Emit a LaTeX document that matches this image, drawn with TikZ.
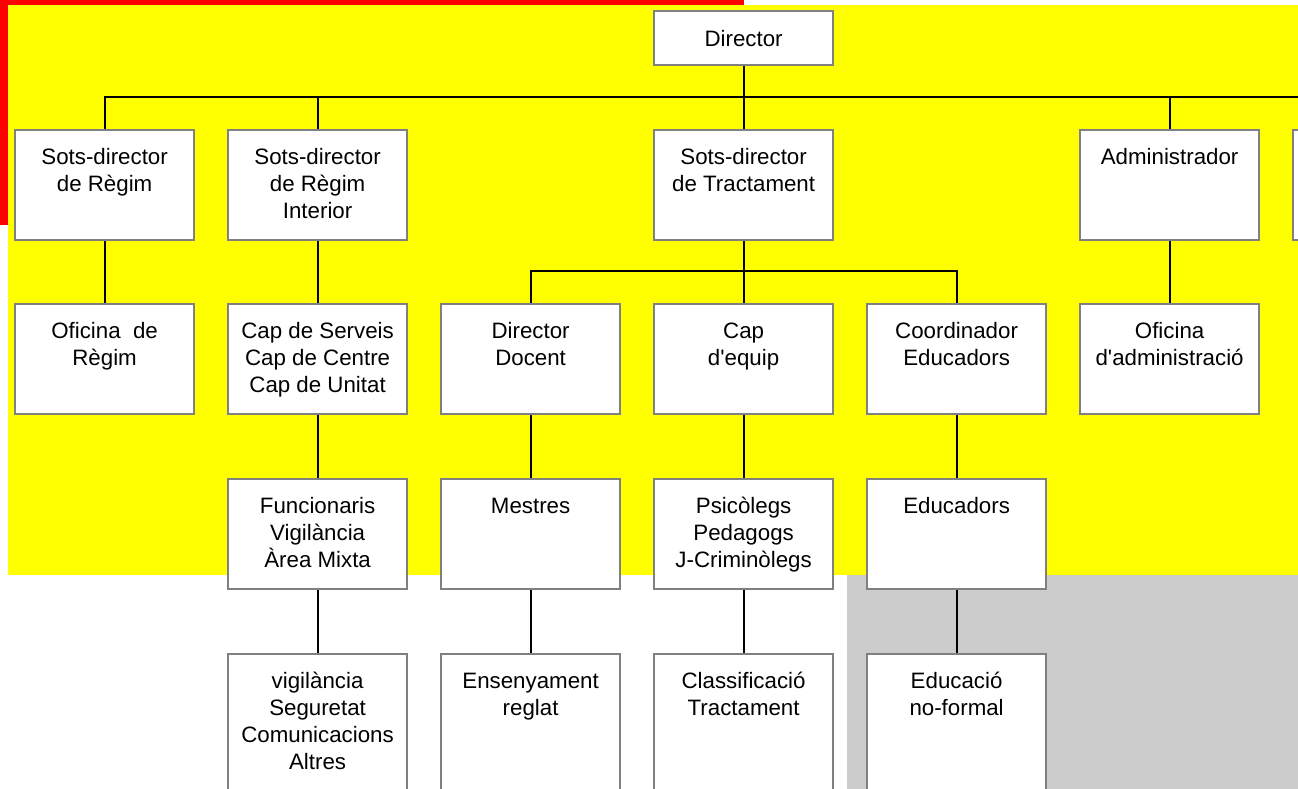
\documentclass[tikz,border=0pt]{standalone}
\usepackage{fontspec}
\setmainfont{Liberation Sans}
\definecolor{boxgray}{HTML}{808080}
\definecolor{bgyellow}{HTML}{FFFF00}
\definecolor{bgred}{HTML}{FF0000}
\definecolor{bggray}{HTML}{CCCCCC}
\tikzset{
  box/.style={draw=boxgray, line width=2.2pt, fill=white, inner sep=0pt, anchor=north west,
    font=\fontsize{22.3}{27}\selectfont},
  conn/.style={draw=black, line width=2.2pt},
}
\newcommand{\bxtext}[2][110]{\parbox[t][#1pt][t]{179pt}{\centering\rule{0pt}{34pt}#2}}
\begin{document}
\begin{tikzpicture}[x=1pt,y=-1pt]
\useasboundingbox (0,0) rectangle (1298,789);
\clip (0,0) rectangle (1298,789);
% backgrounds
\fill[white] (0,0) rectangle (1298,789);
\fill[bgred] (0,0) rectangle (744,225);
\fill[bgyellow] (8,5) rectangle (1298,575);
\fill[bggray] (847,575) rectangle (1298,789);

% row 1
\node[box] (dir) at (653,10) {\parbox[t][54pt][t]{179pt}{\centering\rule{0pt}{35pt}Director}};
% row 2
\node[box] (a1) at (14,129) {\bxtext{Sots-director\\de Règim}};
\node[box] (a2) at (227,129) {\bxtext{Sots-director\\de Règim\\Interior}};
\node[box] (a3) at (653,129) {\bxtext{Sots-director\\de Tractament}};
\node[box] (a4) at (1079,129) {\bxtext{Administrador}};
\node[box] (a5) at (1292,129) {\bxtext{}};
% row 3
\node[box] (b1) at (14,303) {\bxtext{Oficina\ \ de\\Règim}};
\node[box] (b2) at (227,303) {\bxtext{Cap de Serveis\\Cap de Centre\\Cap de Unitat}};
\node[box] (b3) at (440,303) {\bxtext{Director\\Docent}};
\node[box] (b4) at (653,303) {\bxtext{Cap\\d\textquotesingle equip}};
\node[box] (b5) at (866,303) {\bxtext{Coordinador\\Educadors}};
\node[box] (b6) at (1079,303) {\bxtext{Oficina\\d\textquotesingle administració}};
% row 4
\node[box] (c2) at (227,478) {\bxtext{Funcionaris\\Vigilància\\Àrea Mixta}};
\node[box] (c3) at (440,478) {\bxtext{Mestres}};
\node[box] (c4) at (653,478) {\bxtext{Psicòlegs\\Pedagogs\\J-Criminòlegs}};
\node[box] (c5) at (866,478) {\bxtext{Educadors}};
% row 5
\node[box] (d2) at (227,653) {\bxtext[160]{vigilància\\Seguretat\\Comunicacions\\Altres}};
\node[box] (d3) at (440,653) {\bxtext[160]{Ensenyament\\reglat}};
\node[box] (d4) at (653,653) {\bxtext[160]{Classificació\\Tractament}};
\node[box] (d5) at (866,653) {\bxtext[160]{Educació\\no-formal}};

% bus coordinates
\coordinate (bus1) at (0,97);
\coordinate (bus2) at (0,271);

% connectors
\draw[conn] (dir.south) -- (a3.north);
\draw[conn] (a1.north) -- (a1.north |- bus1) -- (a5.north |- bus1) -- (a5.north);
\draw[conn] (a2.north) -- (a2.north |- bus1);
\draw[conn] (a4.north) -- (a4.north |- bus1);
\draw[conn] (a3.south) -- (b4.north);
\draw[conn] (b3.north) -- (b3.north |- bus2) -- (b5.north |- bus2) -- (b5.north);
\draw[conn] (a1.south) -- (b1.north);
\draw[conn] (a2.south) -- (b2.north);
\draw[conn] (a4.south) -- (b6.north);
\draw[conn] (b2.south) -- (c2.north);
\draw[conn] (b3.south) -- (c3.north);
\draw[conn] (b4.south) -- (c4.north);
\draw[conn] (b5.south) -- (c5.north);
\draw[conn] (c2.south) -- (d2.north);
\draw[conn] (c3.south) -- (d3.north);
\draw[conn] (c4.south) -- (d4.north);
\draw[conn] (c5.south) -- (d5.north);
\end{tikzpicture}
\end{document}
